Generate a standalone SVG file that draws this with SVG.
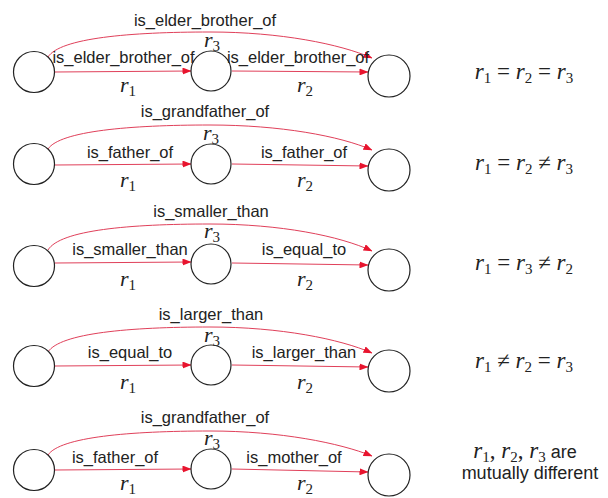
<svg xmlns="http://www.w3.org/2000/svg" width="608" height="498" viewBox="0 0 608 498">
<style>
.node{fill:#fff;stroke:#222;stroke-width:1.2}
.edge{fill:none;stroke:#e0405a;stroke-width:1}
.lbl{font-family:"Liberation Sans",Arial,sans-serif;font-size:16.5px;fill:#222;text-anchor:middle}
.m{font-family:"Liberation Serif","Times New Roman",serif;font-size:22px;fill:#222}
.mi{font-style:italic}
.sub{font-size:15px}
.eq{font-family:"Liberation Serif","Times New Roman",serif;font-size:23px;fill:#222;text-anchor:middle}
.note{font-family:"Liberation Sans",Arial,sans-serif;font-size:18px;fill:#222;text-anchor:middle}
</style>
<defs>
<marker id="ah" markerWidth="9" markerHeight="7" refX="8.5" refY="3.5" orient="auto" markerUnits="userSpaceOnUse">
<path d="M0,0 L9,3.5 L0,7 z" fill="#e8142e"/>
</marker>
</defs>
<rect width="608" height="498" fill="#fff"/>

<g id="connectors">
<path class="edge" marker-end="url(#ah)" d="M55,72 L191,71"/>
<path class="edge" marker-end="url(#ah)" d="M232,71 L368,72"/>
<path class="edge" marker-end="url(#ah)" d="M48,57 C60,38 130,32 210,32 C280,32 340,44 372,58"/>

<path class="edge" marker-end="url(#ah)" d="M55,165 L191,164"/>
<path class="edge" marker-end="url(#ah)" d="M232,164 L368,166"/>
<path class="edge" marker-end="url(#ah)" d="M48,149 C60,131 130,125 210,125 C280,125 340,136 372,150"/>

<path class="edge" marker-end="url(#ah)" d="M55,263 L191,262"/>
<path class="edge" marker-end="url(#ah)" d="M232,263 L368,265"/>
<path class="edge" marker-end="url(#ah)" d="M48,250 C60,230 130,224 210,224 C280,224 340,236 372,251"/>

<path class="edge" marker-end="url(#ah)" d="M55,366 L191,365"/>
<path class="edge" marker-end="url(#ah)" d="M232,365 L368,367"/>
<path class="edge" marker-end="url(#ah)" d="M48,352 C60,333 130,327 210,327 C280,327 340,339 372,353"/>

<path class="edge" marker-end="url(#ah)" d="M55,470 L191,469"/>
<path class="edge" marker-end="url(#ah)" d="M232,469 L368,472"/>
<path class="edge" marker-end="url(#ah)" d="M48,455 C60,437 130,431 210,431 C280,431 340,443 372,456"/>
</g>

<g id="n1a"><circle class="node" cx="34" cy="72" r="20.5"/></g>
<g id="n1b"><circle class="node" cx="211" cy="71" r="20"/></g>
<g id="n1c"><circle class="node" cx="389" cy="76" r="21"/></g>
<g id="n2a"><circle class="node" cx="34" cy="164" r="20.5"/></g>
<g id="n2b"><circle class="node" cx="211" cy="164" r="20"/></g>
<g id="n2c"><circle class="node" cx="389" cy="170" r="21"/></g>
<g id="n3a"><circle class="node" cx="34" cy="266" r="20.5"/></g>
<g id="n3b"><circle class="node" cx="211" cy="264" r="20"/></g>
<g id="n3c"><circle class="node" cx="389" cy="270" r="21"/></g>
<g id="n4a"><circle class="node" cx="34" cy="366" r="20.5"/></g>
<g id="n4b"><circle class="node" cx="211" cy="365" r="20"/></g>
<g id="n4c"><circle class="node" cx="389" cy="371" r="21"/></g>
<g id="n5a"><circle class="node" cx="34" cy="470" r="20.5"/></g>
<g id="n5b"><circle class="node" cx="211" cy="469" r="20"/></g>
<g id="n5c"><circle class="node" cx="389" cy="475" r="21"/></g>

<g id="labels">
<text class="lbl" x="205" y="26">is_elder_brother_of</text>
<text class="lbl" x="123.5" y="63">is_elder_brother_of</text>
<text class="lbl" x="298" y="63">is_elder_brother_of</text>
<text class="m" x="204" y="47"><tspan class="mi">r</tspan><tspan class="sub" dy="4">3</tspan></text>
<text class="m" x="120" y="92"><tspan class="mi">r</tspan><tspan class="sub" dy="4">1</tspan></text>
<text class="m" x="297" y="92"><tspan class="mi">r</tspan><tspan class="sub" dy="4">2</tspan></text>

<text class="lbl" x="205" y="117">is_grandfather_of</text>
<text class="lbl" x="130" y="158">is_father_of</text>
<text class="lbl" x="304" y="158">is_father_of</text>
<text class="m" x="203" y="140"><tspan class="mi">r</tspan><tspan class="sub" dy="4">3</tspan></text>
<text class="m" x="120" y="187"><tspan class="mi">r</tspan><tspan class="sub" dy="4">1</tspan></text>
<text class="m" x="297" y="187"><tspan class="mi">r</tspan><tspan class="sub" dy="4">2</tspan></text>

<text class="lbl" x="211" y="217">is_smaller_than</text>
<text class="lbl" x="130" y="255">is_smaller_than</text>
<text class="lbl" x="304" y="255">is_equal_to</text>
<text class="m" x="204" y="238"><tspan class="mi">r</tspan><tspan class="sub" dy="4">3</tspan></text>
<text class="m" x="120" y="286"><tspan class="mi">r</tspan><tspan class="sub" dy="4">1</tspan></text>
<text class="m" x="297" y="286"><tspan class="mi">r</tspan><tspan class="sub" dy="4">2</tspan></text>

<text class="lbl" x="211" y="320">is_larger_than</text>
<text class="lbl" x="130" y="358">is_equal_to</text>
<text class="lbl" x="304" y="358">is_larger_than</text>
<text class="m" x="204" y="342"><tspan class="mi">r</tspan><tspan class="sub" dy="4">3</tspan></text>
<text class="m" x="120" y="389"><tspan class="mi">r</tspan><tspan class="sub" dy="4">1</tspan></text>
<text class="m" x="297" y="389"><tspan class="mi">r</tspan><tspan class="sub" dy="4">2</tspan></text>

<text class="lbl" x="205" y="423">is_grandfather_of</text>
<text class="lbl" x="115" y="463">is_father_of</text>
<text class="lbl" x="294" y="463">is_mother_of</text>
<text class="m" x="204" y="445"><tspan class="mi">r</tspan><tspan class="sub" dy="4">3</tspan></text>
<text class="m" x="120" y="490"><tspan class="mi">r</tspan><tspan class="sub" dy="4">1</tspan></text>
<text class="m" x="297" y="490"><tspan class="mi">r</tspan><tspan class="sub" dy="4">2</tspan></text>
</g>

<g id="relations">
<text class="eq" x="524" y="79"><tspan class="mi">r</tspan><tspan class="sub" dy="4">1</tspan><tspan dy="-4"> = </tspan><tspan class="mi">r</tspan><tspan class="sub" dy="4">2</tspan><tspan dy="-4"> = </tspan><tspan class="mi">r</tspan><tspan class="sub" dy="4">3</tspan></text>
<text class="eq" x="524" y="170"><tspan class="mi">r</tspan><tspan class="sub" dy="4">1</tspan><tspan dy="-4"> = </tspan><tspan class="mi">r</tspan><tspan class="sub" dy="4">2</tspan><tspan dy="-4"> ≠ </tspan><tspan class="mi">r</tspan><tspan class="sub" dy="4">3</tspan></text>
<text class="eq" x="524" y="270"><tspan class="mi">r</tspan><tspan class="sub" dy="4">1</tspan><tspan dy="-4"> = </tspan><tspan class="mi">r</tspan><tspan class="sub" dy="4">3</tspan><tspan dy="-4"> ≠ </tspan><tspan class="mi">r</tspan><tspan class="sub" dy="4">2</tspan></text>
<text class="eq" x="524" y="368"><tspan class="mi">r</tspan><tspan class="sub" dy="4">1</tspan><tspan dy="-4"> ≠ </tspan><tspan class="mi">r</tspan><tspan class="sub" dy="4">2</tspan><tspan dy="-4"> = </tspan><tspan class="mi">r</tspan><tspan class="sub" dy="4">3</tspan></text>
<text class="eq" x="525" y="458"><tspan class="mi">r</tspan><tspan class="sub" dy="4">1</tspan><tspan dy="-4">, </tspan><tspan class="mi">r</tspan><tspan class="sub" dy="4">2</tspan><tspan dy="-4">, </tspan><tspan class="mi">r</tspan><tspan class="sub" dy="4">3</tspan><tspan dy="-4" style="font-family:'Liberation Sans',Arial,sans-serif;font-size:18px"> are</tspan></text>
<text class="note" x="530" y="479">mutually different</text>
</g>
</svg>
